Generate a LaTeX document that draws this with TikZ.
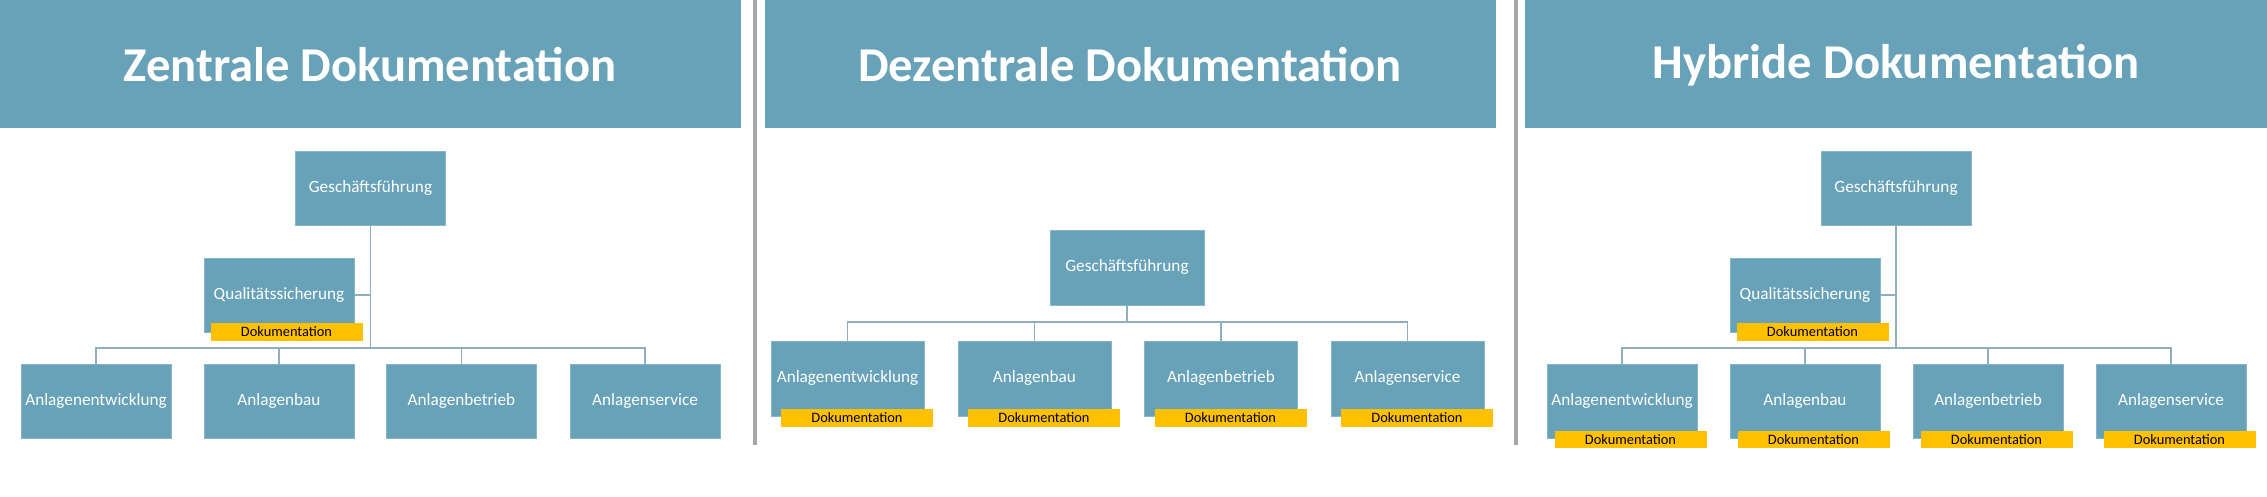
\documentclass[tikz,border=0pt]{standalone}
\usepackage{fontspec}
\setmainfont{Carlito}
\definecolor{boxc}{HTML}{67A2B9}
\definecolor{dokc}{HTML}{FFC000}
\definecolor{linec}{HTML}{8FAFC0}
\definecolor{sepc}{HTML}{A6A6A6}
\tikzset{
  hdr/.style={fill=boxc,draw=none,minimum width=370.5pt,minimum height=64pt,inner sep=0},
  ttl/.style={text=white,font=\bfseries\fontsize{24.3}{28}\selectfont},
  org/.style={fill=boxc,draw=boxc!80!white,line width=0.4pt,minimum width=75pt,minimum height=37pt,inner sep=0,text=white,font=\fontsize{8.6}{10}\selectfont},
  dok/.style={fill=dokc,draw=none,minimum width=76pt,minimum height=8.8pt,inner sep=0,text=black,font=\fontsize{7.2}{8}\selectfont},
  conn/.style={draw=linec,line width=0.8pt},
  sep/.style={draw=sepc,line width=2.2pt}
}
\begin{document}
\begin{tikzpicture}[x=0.5pt,y=-0.5pt]
\useasboundingbox (0,0) rectangle (2267,497);
% separators
\coordinate (s1a) at (755,0); \coordinate (s1b) at (755,445);
\coordinate (s2a) at (1516,0); \coordinate (s2b) at (1516,445);
\draw[sep] (s1a) -- (s1b);
\draw[sep] (s2a) -- (s2b);
% headers
\node[hdr,anchor=north west] (h1) at (0,0) {};
\node[ttl] (t1) at (370,65) {Zentrale Dokumentation};
\node[hdr,anchor=north west,minimum width=365.5pt] (h2) at (765,0) {};
\node[ttl] (t2) at (1130,65) {Dezentrale Dokumentation};
\node[hdr,anchor=north west,minimum width=371pt] (h3) at (1525,0) {};
\node[ttl] (t3) at (1896,65) {Hybride Dokumentation};

% ---------- panel 1
\node[org] (agf) at (370.5,188.5) {Geschäftsführung};
\node[org] (aqs) at (279,295) {Qualitätssicherung};
\node[org] (ab1) at (96,401.5) {Anlagenentwicklung};
\node[org] (ab2) at (279,401.5) {Anlagenbau};
\node[org] (ab3) at (461.5,401.5) {Anlagenbetrieb};
\node[org] (ab4) at (645,401.5) {Anlagenservice};
\coordinate (abar) at (370.5,348);
\draw[conn] (agf.south) -- (agf.south |- abar);
\draw[conn] (aqs.east) -- (aqs.east -| agf.south);
\draw[conn] (ab1.north) -- (ab1.north |- abar) -- (ab4.north |- abar) -- (ab4.north);
\draw[conn] (ab2.north) -- (ab2.north |- abar);
\draw[conn] (ab3.north) -- (ab3.north |- abar);
\node[dok] (adq) at (286.5,332) {Dokumentation};

% ---------- panel 2
\node[org,minimum width=77pt,minimum height=37.5pt] (bgf) at (1127,267.5) {Geschäftsführung};
\node[org,minimum width=76.5pt,minimum height=37.5pt] (bb1) at (847.5,378.5) {Anlagenentwicklung};
\node[org,minimum width=76.5pt,minimum height=37.5pt] (bb2) at (1034.5,378.5) {Anlagenbau};
\node[org,minimum width=76.5pt,minimum height=37.5pt] (bb3) at (1221,378.5) {Anlagenbetrieb};
\node[org,minimum width=76.5pt,minimum height=37.5pt] (bb4) at (1407.5,378.5) {Anlagenservice};
\coordinate (bbar) at (1127,322);
\draw[conn] (bgf.south) -- (bgf.south |- bbar);
\draw[conn] (bb1.north) -- (bb1.north |- bbar) -- (bb4.north |- bbar) -- (bb4.north);
\draw[conn] (bb2.north) -- (bb2.north |- bbar);
\draw[conn] (bb3.north) -- (bb3.north |- bbar);
\node[dok,minimum height=9pt] (bd1) at (857,418) {Dokumentation};
\node[dok,minimum height=9pt] (bd2) at (1044,418) {Dokumentation};
\node[dok,minimum height=9pt] (bd3) at (1230.5,418) {Dokumentation};
\node[dok,minimum height=9pt] (bd4) at (1417,418) {Dokumentation};

% ---------- panel 3
\node[org] (cgf) at (1896,188.5) {Geschäftsführung};
\node[org] (cqs) at (1805,295) {Qualitätssicherung};
\node[org] (cb1) at (1622,401.5) {Anlagenentwicklung};
\node[org] (cb2) at (1805,401.5) {Anlagenbau};
\node[org] (cb3) at (1988,401.5) {Anlagenbetrieb};
\node[org] (cb4) at (2171,401.5) {Anlagenservice};
\coordinate (cbar) at (1896,348);
\draw[conn] (cgf.south) -- (cgf.south |- cbar);
\draw[conn] (cqs.east) -- (cqs.east -| cgf.south);
\draw[conn] (cb1.north) -- (cb1.north |- cbar) -- (cb4.north |- cbar) -- (cb4.north);
\draw[conn] (cb2.north) -- (cb2.north |- cbar);
\draw[conn] (cb3.north) -- (cb3.north |- cbar);
\node[dok] (cdq) at (1812.5,332) {Dokumentation};
\node[dok] (cd1) at (1630.5,439.5) {Dokumentation};
\node[dok] (cd2) at (1813.5,439.5) {Dokumentation};
\node[dok] (cd3) at (1996.5,439.5) {Dokumentation};
\node[dok] (cd4) at (2179.5,439.5) {Dokumentation};
\end{tikzpicture}
\end{document}
